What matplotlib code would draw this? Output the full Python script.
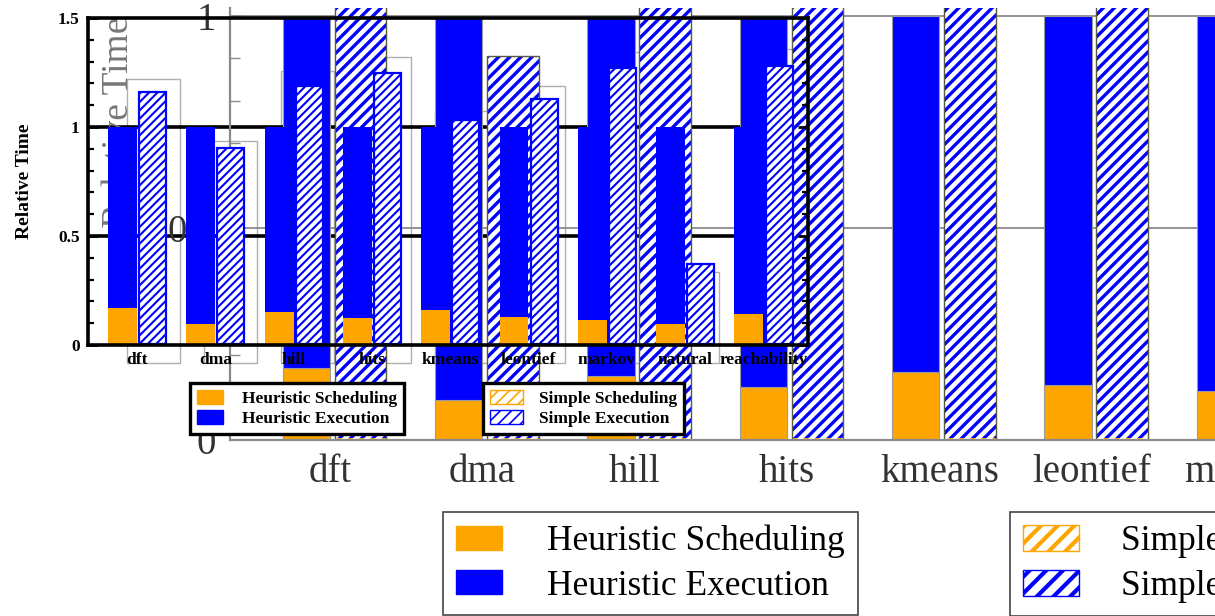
import matplotlib
matplotlib.use("Agg")
import matplotlib.pyplot as plt
import matplotlib.patches as mpatches
from matplotlib.ticker import MultipleLocator, FixedLocator

# ---------------- data ----------------
categories = ['dft', 'dma', 'hill', 'hits', 'kmeans', 'leontief', 'markov', 'natural', 'reachability']
heur_sched = [0.17, 0.095, 0.15, 0.125, 0.16, 0.13, 0.115, 0.095, 0.14]
heur_exec = [0.83, 0.905, 0.85, 0.875, 0.84, 0.87, 0.885, 0.905, 0.86]
simple_sched = [0.005, 0.005, 0.005, 0.005, 0.005, 0.005, 0.005, 0.005, 0.005]
simple_exec = [1.155, 0.9, 1.185, 1.245, 1.025, 1.125, 1.265, 0.365, 1.275]
ytick_vals = [0, 0.5, 1, 1.5]
ytick_labels = ['0', '0.5', '1', '1.5']
legend_heur = ['Heuristic Scheduling', 'Heuristic Execution']
legend_simple = ['Simple Scheduling', 'Simple Execution']

ORANGE = '#FFA500'
BLUE = '#0000FF'
SERIF = ['Liberation Serif', 'DejaVu Serif']

W, H = 1215, 616
fig = plt.figure(figsize=(W / 100, H / 100), dpi=100)
fig.patch.set_facecolor('white')


def px_axes(l, t, r, b, z):
    ax = fig.add_axes([l / W, 1 - b / H, (r - l) / W, (b - t) / H])
    ax.set_zorder(z)
    ax.patch.set_alpha(0)
    return ax


def set_hlw(patches, lw):
    for p in patches:
        if hasattr(p, 'set_hatch_linewidth'):
            p.set_hatch_linewidth(lw)


x = list(range(len(categories)))
simple_tot = [a + b for a, b in zip(simple_sched, simple_exec)]

# ---------------- ghost layer (outlines) ----------------
axg = px_axes(0, 0, W, H, 0.6)
axg.set_xlim(-153.5 / 77, (W - 153.5) / 77)
axg.set_ylim((363 - H) / 245, 363 / 245)
axg.axis('off')
axg.bar(x, simple_tot, width=0.69, facecolor='none', edgecolor='#b0b0b0', linewidth=1.0)

# ---------------- small-chart gridlines (under background bars) ----------------
S_L, S_T, S_R, S_B = 88, 18, 808, 345
s_xlim = (-0.626, 8.57)
axd = px_axes(S_L, S_T, S_R, S_B, 0.7)
axd.set_xlim(*s_xlim)
axd.set_ylim(0, 1.5)
axd.axis('off')
for yv in ytick_vals[1:3]:
    axd.axhline(yv, color='black', lw=2.6)

# ---------------- big background chart ----------------
B_unit = 152.3
B_L, B_T, B_B = 230, 8, 440
b_xlim = (-0.657, 8.6)
B_R = B_L + (b_xlim[1] - b_xlim[0]) * B_unit
axb = px_axes(B_L, B_T, B_R, B_B, 1)
axb.set_xlim(*b_xlim)
axb.set_ylim(0, (B_B - B_T) / 424)
axb.set_axisbelow(True)
for s in ['top', 'right']:
    axb.spines[s].set_visible(False)
for s in ['left', 'bottom']:
    axb.spines[s].set_color('#8a8a8a')
    axb.spines[s].set_linewidth(1.6)
axb.yaxis.set_major_locator(FixedLocator(ytick_vals[:3]))
axb.set_yticklabels(ytick_labels[:3])
axb.yaxis.set_minor_locator(MultipleLocator(0.1))
axb.tick_params(axis='y', which='both', direction='in', colors='#8a8a8a', labelcolor='#333333',
                labelsize=28, pad=10)
axb.tick_params(axis='y', which='major', length=11, width=1.2)
axb.tick_params(axis='y', which='minor', length=7, width=1.0)
axb.set_xticks(x)
axb.set_xticklabels(categories)
axb.tick_params(axis='x', length=0, pad=10, labelsize=28, labelcolor='#333333')
for lab in axb.get_xticklabels() + axb.get_yticklabels():
    lab.set_family(SERIF)
axb.yaxis.grid(True, color='#8a8a8a', lw=1.3)

hb = [i - 0.155 for i in x]
sb = [i + 0.2 for i in x]
axb.bar(hb, heur_sched, width=0.31, color=ORANGE, edgecolor='#9a9a9a', linewidth=0.8)
axb.bar(hb, heur_exec, width=0.31, bottom=heur_sched, color=BLUE, edgecolor='#9a9a9a', linewidth=0.8)
with plt.rc_context({'hatch.linewidth': 2.4}):
    r1 = axb.bar(sb, simple_sched, width=0.34, facecolor='white', edgecolor=ORANGE, hatch='///', linewidth=0)
    r2 = axb.bar(sb, simple_exec, width=0.34, bottom=simple_sched, facecolor='white', edgecolor=BLUE,
                 hatch='///', linewidth=0)
set_hlw(list(r1) + list(r2), 2.4)
axb.bar(sb, simple_tot, width=0.34, facecolor='none', edgecolor='#5a5a40', linewidth=1.0)

fig.text(119 / W, 1 - 122 / H, 'Relative Time', rotation=90, ha='center', va='center',
         fontsize=27, color='#777777', family=SERIF, zorder=0.9)

# ---------------- small foreground chart ----------------
axs = px_axes(S_L, S_T, S_R, S_B, 2)
axs.set_xlim(*s_xlim)
axs.set_ylim(0, 1.5)
for s in axs.spines.values():
    s.set_linewidth(2.6)
    s.set_color('black')
hs = [i - 0.185 for i in x]
ss = [i + 0.2 for i in x]
axs.bar(hs, heur_sched, width=0.37, color=ORANGE, linewidth=0)
axs.bar(hs, heur_exec, width=0.37, bottom=heur_sched, color=BLUE, linewidth=0)
with plt.rc_context({'hatch.linewidth': 1.5}):
    q1 = axs.bar(ss, simple_sched, width=0.345, facecolor='white', edgecolor=ORANGE, hatch='////', linewidth=0)
    q2 = axs.bar(ss, simple_exec, width=0.345, bottom=simple_sched, facecolor='white', edgecolor=BLUE,
                 hatch='////', linewidth=1.6)
set_hlw(list(q1) + list(q2), 1.5)
axs.yaxis.set_major_locator(FixedLocator(ytick_vals))
axs.set_yticklabels(ytick_labels)
axs.yaxis.set_minor_locator(MultipleLocator(0.1))
axs.tick_params(axis='y', which='both', direction='in', left=True, right=True, labelsize=12.5, pad=6)
axs.tick_params(axis='y', which='major', length=7, width=2)
axs.tick_params(axis='y', which='minor', length=4, width=1.6)
axs.set_xticks(x)
axs.set_xticklabels(categories)
axs.tick_params(axis='x', length=0, pad=5, labelsize=12.5)
for lab in axs.get_xticklabels() + axs.get_yticklabels():
    lab.set_family(SERIF)
    lab.set_fontweight('bold')
fig.text(25 / W, 1 - 181 / H, 'Relative Time', rotation=90, ha='center', va='center',
         fontsize=14, fontweight='bold', family=SERIF, zorder=3)

# ---------------- legends ----------------
def make_legend(handles, labels, l, t, fs, hl, hh, htp, bp, ls, ec, elw, z):
    leg = fig.legend(handles, labels, loc='upper left', bbox_to_anchor=(l / W, 1 - t / H),
                     borderaxespad=0, fancybox=False, framealpha=1, edgecolor=ec,
                     prop={'family': SERIF, 'size': fs, 'weight': 'bold' if fs < 15 else 'normal'},
                     handlelength=hl, handleheight=hh, handletextpad=htp, borderpad=bp,
                     labelspacing=ls)
    leg.get_frame().set_linewidth(elw)
    leg.set_zorder(z)
    return leg


def hatched(color, lw, pattern):
    with plt.rc_context({'hatch.linewidth': lw}):
        p = mpatches.Patch(facecolor='white', edgecolor=color, hatch=pattern, linewidth=1)
    set_hlw([p], lw)
    return p


with plt.rc_context({'hatch.linewidth': 1.2}):
    sh = [mpatches.Patch(color=ORANGE), mpatches.Patch(color=BLUE)]
    make_legend(sh, legend_heur, 190, 383, 12.5, 1.5, 0.85, 1.1, 0.4, 0.2, 'black', 2.4, 10)
    sh2 = [hatched(ORANGE, 1.2, '///'), hatched(BLUE, 1.2, '///')]
    make_legend(sh2, legend_simple, 483, 383, 12.5, 1.9, 0.85, 0.9, 0.4, 0.2, 'black', 2.4, 10)

with plt.rc_context({'hatch.linewidth': 3.0}):
    bh = [mpatches.Patch(color=ORANGE), mpatches.Patch(color=BLUE)]
    make_legend(bh, legend_heur, 443, 512, 25.5, 1.3, 0.67, 1.28, 0.36, 0.32, '#444444', 1.2, 5)
    bh2 = [hatched(ORANGE, 3.0, '//'), hatched(BLUE, 3.0, '//')]
    make_legend(bh2, legend_simple, 1010, 512, 25.5, 1.58, 0.75, 1.2, 0.36, 0.32, '#444444', 1.2, 5)

fig.savefig('out.png', dpi=100)
